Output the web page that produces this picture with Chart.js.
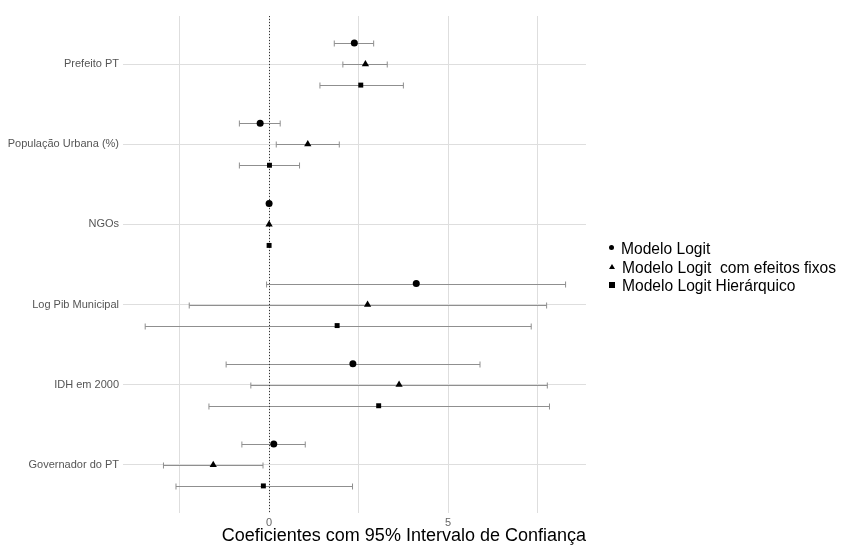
<!DOCTYPE html>
<html>
<head>
<meta charset="utf-8">
<script src="https://cdn.jsdelivr.net/npm/chart.js@4.4.1/dist/chart.umd.min.js"></script>
<style>
  body { margin: 0; background: #fff; }
  #wrap { position: relative; width: 842px; height: 546px; }
  #legend { position: absolute; left: 609px; top: 240px; font-family: "Liberation Sans", Arial, sans-serif; font-size: 15.6px; color: #000; }
  #legend div { height: 18.5px; line-height: 18.5px; white-space: pre; }
  .mk { display: inline-block; vertical-align: middle; margin-right: 7px; position: relative; top: -2px; }
  .circ { width: 5px; height: 5px; border-radius: 50%; background: #000; }
  .tri { width: 0; height: 0; border-left: 3px solid transparent; border-right: 3px solid transparent; border-bottom: 5px solid #000; }
  .sq { width: 6px; height: 6px; background: #000; }
</style>
</head>
<body>
<div id="wrap">
  <canvas id="chart" width="842" height="546"></canvas>
  <div id="legend"></div>
</div>
<script>
const categories = ['Prefeito PT', 'População Urbana (%)', 'NGOs', 'Log Pib Municipal', 'IDH em 2000', 'Governador do PT'];
const seriesNames = ['Modelo Logit', 'Modelo Logit  com efeitos fixos', 'Modelo Logit Hierárquico'];

const logitCoef = [2.38, -0.25, 0.00, 4.11, 2.34, 0.13];
const logitLow  = [1.82, -0.83, -0.01, -0.07, -1.20, -0.76];
const logitHigh = [2.92, 0.31, 0.01, 8.28, 5.89, 1.01];

const feCoef = [2.69, 1.08, 0.00, 2.75, 3.63, -1.56];
const feLow  = [2.06, 0.20, -0.01, -2.23, -0.51, -2.95];
const feHigh = [3.30, 1.96, 0.01, 7.75, 7.77, -0.17];

const hierCoef = [2.56, 0.01, 0.00, 1.90, 3.06, -0.16];
const hierLow  = [1.42, -0.83, -0.01, -3.46, -1.68, -2.60];
const hierHigh = [3.75, 0.85, 0.01, 7.32, 7.83, 2.33];

const xTickValues = [-2.5, 0, 2.5, 5, 7.5];
const xTickLabels = ['', '0', '', '5', ''];

// dodge of each model inside a category row
const dodge = [-0.262, 0, 0.262];
const shapes = ['circle', 'triangle', 'rect'];
const coefs = [logitCoef, feCoef, hierCoef];
const lows = [logitLow, feLow, hierLow];
const highs = [logitHigh, feHigh, hierHigh];

const datasets = coefs.map((c, s) => ({
  label: seriesNames[s],
  data: c.map((v, i) => ({ x: v, y: i + 1 + dodge[s], lo: lows[s][i], hi: highs[s][i] })),
  pointStyle: shapes[s],
  pointRadius: s === 1 ? 4.2 : 3.5,
  backgroundColor: '#000',
  borderColor: '#000',
  borderWidth: 0,
  order: 1
}));

// horizontal error bars, drawn under the points
const errorBars = {
  id: 'errorBars',
  beforeDatasetsDraw(chart) {
    const ctx = chart.ctx, xs = chart.scales.x, ys = chart.scales.y;
    ctx.save();
    ctx.strokeStyle = '#8f8f8f';
    ctx.lineWidth = 1;
    chart.data.datasets.forEach(ds => {
      ds.data.forEach(p => {
        const y = Math.round(ys.getPixelForValue(p.y)) + 0.5;
        const x1 = xs.getPixelForValue(p.lo), x2 = xs.getPixelForValue(p.hi);
        if (x2 - x1 < 2) return;
        ctx.beginPath();
        ctx.moveTo(x1, y); ctx.lineTo(x2, y);
        ctx.moveTo(x1, y - 3); ctx.lineTo(x1, y + 3);
        ctx.moveTo(x2, y - 3); ctx.lineTo(x2, y + 3);
        ctx.stroke();
      });
    });
    // dotted zero line
    const x0 = Math.round(xs.getPixelForValue(0)) + 0.5;
    ctx.strokeStyle = '#333';
    ctx.setLineDash([1, 2]);
    ctx.beginPath();
    ctx.moveTo(x0, chart.chartArea.top);
    ctx.lineTo(x0, chart.chartArea.bottom);
    ctx.stroke();
    ctx.restore();
  }
};

new Chart(document.getElementById('chart'), {
  type: 'scatter',
  data: { datasets: datasets },
  options: {
    responsive: false,
    animation: false,
    devicePixelRatio: 1,
    layout: { padding: { left: 0, right: 256, top: 16, bottom: 0 } },
    plugins: { legend: { display: false }, tooltip: { enabled: false } },
    scales: {
      x: {
        type: 'linear',
        min: -4.08,
        max: 8.85,
        afterBuildTicks: axis => { axis.ticks = xTickValues.map(v => ({ value: v })); },
        afterFit: axis => { axis.height = 33; },
        ticks: {
          color: '#666',
          font: { family: 'Liberation Sans', size: 11 },
          padding: 3,
          maxRotation: 0,
          autoSkip: false,
          callback: (v, i) => xTickLabels[i]
        },
        grid: { color: '#dedede', drawTicks: false },
        border: { display: false },
        title: {
          display: true,
          text: 'Coeficientes com 95% Intervalo de Confiança',
          align: 'end',
          color: '#000',
          font: { family: 'Liberation Sans', size: 18, lineHeight: 1 },
          padding: { top: 0, bottom: 1 }
        }
      },
      y: {
        type: 'linear',
        reverse: true,
        min: 0.4,
        max: 6.6,
        afterBuildTicks: axis => { axis.ticks = categories.map((c, i) => ({ value: i + 1 })); },
        afterFit: axis => { axis.width = 123; },
        ticks: {
          color: '#555',
          font: { family: 'Liberation Sans', size: 11 },
          padding: 4,
          autoSkip: false,
          callback: (v) => categories[v - 1]
        },
        grid: { color: '#dedede', drawTicks: false },
        border: { display: false }
      }
    }
  },
  plugins: [errorBars]
});

const legendEl = document.getElementById('legend');
const mkClass = ['circ', 'tri', 'sq'];
seriesNames.forEach((n, s) => {
  const row = document.createElement('div');
  const mk = document.createElement('span');
  mk.className = 'mk ' + mkClass[s];
  row.appendChild(mk);
  row.appendChild(document.createTextNode(n));
  legendEl.appendChild(row);
});
</script>
</body>
</html>
